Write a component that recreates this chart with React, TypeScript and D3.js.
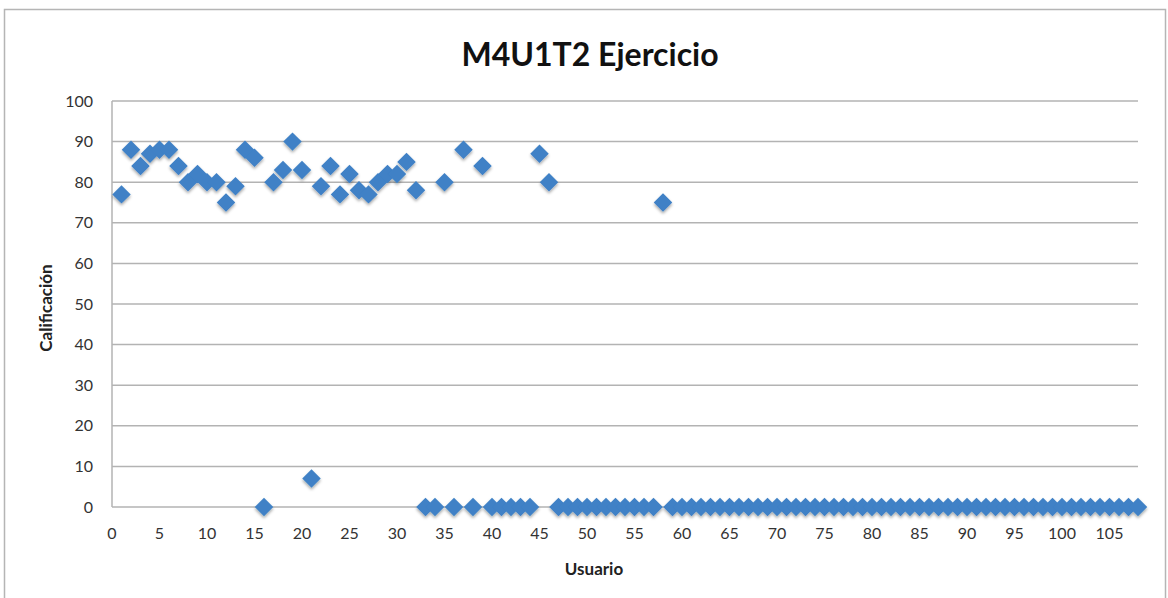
import React from "react";
import * as d3 from "d3";

const title = "M4U1T2 Ejercicio";
const xTitle = "Usuario";
const yTitle = "Calificación";

// Scores for users 1..108
const scores: number[] = [
  77, 88, 84, 87, 88, 88, 84, 80, 82, 80, // 1-10
  80, 75, 79, 88, 86, 0, 80, 83, 90, 83, // 11-20
  7, 79, 84, 77, 82, 78, 77, 80, 82, 82, // 21-30
  85, 78, 0, 0, 80, 0, 88, 0, 84, 0, // 31-40
  0, 0, 0, 0, 87, 80, 0, 0, 0, 0, // 41-50
  0, 0, 0, 0, 0, 0, 0, 75, 0, 0, // 51-60
  0, 0, 0, 0, 0, 0, 0, 0, 0, 0, // 61-70
  0, 0, 0, 0, 0, 0, 0, 0, 0, 0, // 71-80
  0, 0, 0, 0, 0, 0, 0, 0, 0, 0, // 81-90
  0, 0, 0, 0, 0, 0, 0, 0, 0, 0, // 91-100
  0, 0, 0, 0, 0, 0, 0, 0, // 101-108
];
const users = scores.map((_, i) => i + 1);

const xTicks = d3.range(0, 106, 5);
const yTicks = d3.range(0, 101, 10);

const W = 1168;
const H = 598;
const plot = { left: 112, right: 1138, top: 101, bottom: 507 };

export default function App() {
  const x = d3.scaleLinear().domain([0, 108]).range([plot.left, plot.right]);
  const y = d3.scaleLinear().domain([0, 100]).range([plot.bottom, plot.top]);
  const diamond = d3.symbol(d3.symbolSquare, 170)();
  const font = "Lato, 'Open Sans', sans-serif";
  return (
    <svg
      width={W}
      height={H}
      style={{ position: "absolute", left: 0, top: 0, background: "#fff" }}
    >
      <defs>
        <filter id="sh" x="-50%" y="-50%" width="200%" height="200%">
          <feDropShadow dx="0" dy="2" stdDeviation="1.5" floodColor="#000" floodOpacity="0.35" />
        </filter>
      </defs>
      <rect x={4.5} y={9.5} width={1161} height={600} fill="#fff" stroke="#b5b5b5" strokeWidth={1.5} />
      <text
        x={590}
        y={66}
        textAnchor="middle"
        fontFamily={font}
        fontWeight="bold"
        fontSize={32}
        fill="#111"
      >
        {title}
      </text>
      {yTicks.map((t) => (
        <line
          key={"g" + t}
          x1={plot.left}
          x2={plot.right}
          y1={y(t)}
          y2={y(t)}
          stroke="#b3b3b3"
          strokeWidth={1.5}
        />
      ))}
      <line x1={plot.left} x2={plot.left} y1={plot.top} y2={plot.bottom} stroke="#b3b3b3" strokeWidth={1.5} />
      {yTicks.map((t) => (
        <text
          key={"y" + t}
          x={93}
          y={y(t)}
          dy="0.35em"
          textAnchor="end"
          fontFamily={font}
          fontSize={16}
          fill="#333"
        >
          {t}
        </text>
      ))}
      {xTicks.map((t) => (
        <text
          key={"x" + t}
          x={x(t)}
          y={533}
          dy="0.35em"
          textAnchor="middle"
          fontFamily={font}
          fontSize={16}
          fill="#333"
        >
          {t}
        </text>
      ))}
      <text x={594} y={569} dy="0.35em" textAnchor="middle" fontFamily={font} fontWeight="bold" fontSize={17} fill="#222">
        {xTitle}
      </text>
      <text
        transform={`translate(46,308) rotate(-90)`}
        dy="0.35em"
        textAnchor="middle"
        fontFamily={font}
        fontWeight="bold"
        fontSize={17}
        fill="#222"
      >
        {yTitle}
      </text>
      <g filter="url(#sh)">
        {scores.map((s, i) => (
          <path
            key={i}
            d={diamond as string}
            transform={`translate(${x(users[i])},${y(s)}) rotate(45)`}
            fill="#3f81c6"
          />
        ))}
      </g>
    </svg>
  );
}
